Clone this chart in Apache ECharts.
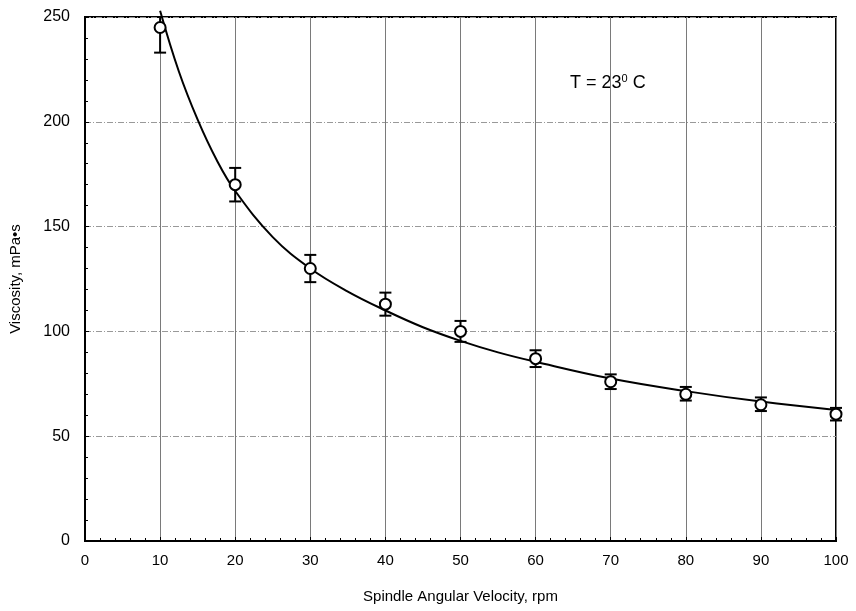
<!DOCTYPE html>
<html><head><meta charset="utf-8">
<script src="https://cdn.jsdelivr.net/npm/echarts@6/dist/echarts.min.js"></script>
<style>html,body{margin:0;padding:0;background:#fff}#c{width:856px;height:611px}</style>
</head><body><div id="c"></div>
<script>
var speeds = [10, 20, 30, 40, 50, 60, 70, 80, 90, 100];
var viscosity = [245, 170, 130, 113, 100, 87, 76, 70, 65, 60.5];
var errLow = [233, 162, 123.5, 107.5, 95, 83, 72.5, 67, 62, 57.5];
var errHigh = [257, 178, 136.5, 118.5, 105, 91, 79.5, 73.5, 68.5, 63.5];
var fitX = [10, 12.5, 15, 17.5, 20, 25, 30, 35, 40, 45, 50, 55, 60, 70, 80, 90, 100];
var fitY = [253, 224, 201, 182, 167, 145, 130, 119, 110, 102, 95.5, 90, 85.5, 77.5, 71.5, 66.5, 62.5];

var chart = echarts.init(document.getElementById('c'), null, {renderer: 'canvas'});
var font = 'Liberation Sans, Arial, sans-serif';
chart.setOption({
  animation: false,
  backgroundColor: '#fff',
  grid: {left: 84, right: 20, top: 17, bottom: 70, show: true, borderColor: '#000', borderWidth: 2},
  xAxis: {
    type: 'value', min: 0, max: 100, interval: 10,
    name: 'Spindle Angular Velocity, rpm', nameLocation: 'middle', nameGap: 48,
    nameTextStyle: {fontFamily: font, fontSize: 15, color: '#000'},
    axisLine: {lineStyle: {color: '#000', width: 2}},
    axisTick: {show: true, inside: true, length: 4, lineStyle: {color: '#000'}},
    minorTick: {show: true, splitNumber: 5, length: 3, lineStyle: {color: '#000'}},
    axisLabel: {fontFamily: font, fontSize: 15, color: '#000', margin: 12},
    splitLine: {show: true, lineStyle: {color: '#7a7a7a', width: 1}}
  },
  yAxis: {
    type: 'value', min: 0, max: 250, interval: 50,
    name: 'Viscosity, mPa•s', nameLocation: 'middle', nameGap: 62,
    nameTextStyle: {fontFamily: font, fontSize: 15, color: '#000'},
    axisLine: {lineStyle: {color: '#000', width: 2}},
    axisTick: {show: true, inside: true, length: 4, lineStyle: {color: '#000'}},
    minorTick: {show: true, splitNumber: 5, length: 3, lineStyle: {color: '#000'}},
    axisLabel: {fontFamily: font, fontSize: 16, color: '#000', margin: 15},
    splitLine: {show: true, lineStyle: {color: '#999', width: 1, type: [6, 2, 1, 2]}}
  },
  series: [
    {
      type: 'line', data: fitX.map(function(x, i){return [x, fitY[i]];}),
      smooth: 0.4, showSymbol: false, clip: false,
      lineStyle: {color: '#000', width: 2}, z: 3
    },
    {
      type: 'custom', clip: false, z: 4,
      data: speeds.map(function(x, i){return [x, errLow[i], errHigh[i]];}),
      renderItem: function(params, api){
        var lo = api.coord([api.value(0), api.value(1)]);
        var hi = api.coord([api.value(0), api.value(2)]);
        var top = Math.max(hi[1], 17);
        var hw = 6;
        var ch = [
          {type: 'line', shape: {x1: lo[0], y1: lo[1], x2: lo[0], y2: top}, style: {stroke: '#000', lineWidth: 2}},
          {type: 'line', shape: {x1: lo[0]-hw, y1: lo[1], x2: lo[0]+hw, y2: lo[1]}, style: {stroke: '#000', lineWidth: 2}}
        ];
        if (hi[1] >= 17) ch.push({type: 'line', shape: {x1: hi[0]-hw, y1: hi[1], x2: hi[0]+hw, y2: hi[1]}, style: {stroke: '#000', lineWidth: 2}});
        return {type: 'group', children: ch};
      }
    },
    {
      type: 'scatter', data: speeds.map(function(x, i){return [x, viscosity[i]];}),
      symbol: 'circle', symbolSize: 11, z: 5,
      itemStyle: {color: '#fff', borderColor: '#000', borderWidth: 2, opacity: 1}
    }
  ],
  graphic: [{
    type: 'text', left: 570, top: 73,
    style: {
      text: '{a|T = 23}{s|0}{a| C}',
      rich: {
        a: {fontFamily: font, fontSize: 18, fill: '#000'},
        s: {fontFamily: font, fontSize: 11, fill: '#000', verticalAlign: 'top', padding: [0, 0, 10, 0]}
      }
    }
  }]
});
</script></body></html>
